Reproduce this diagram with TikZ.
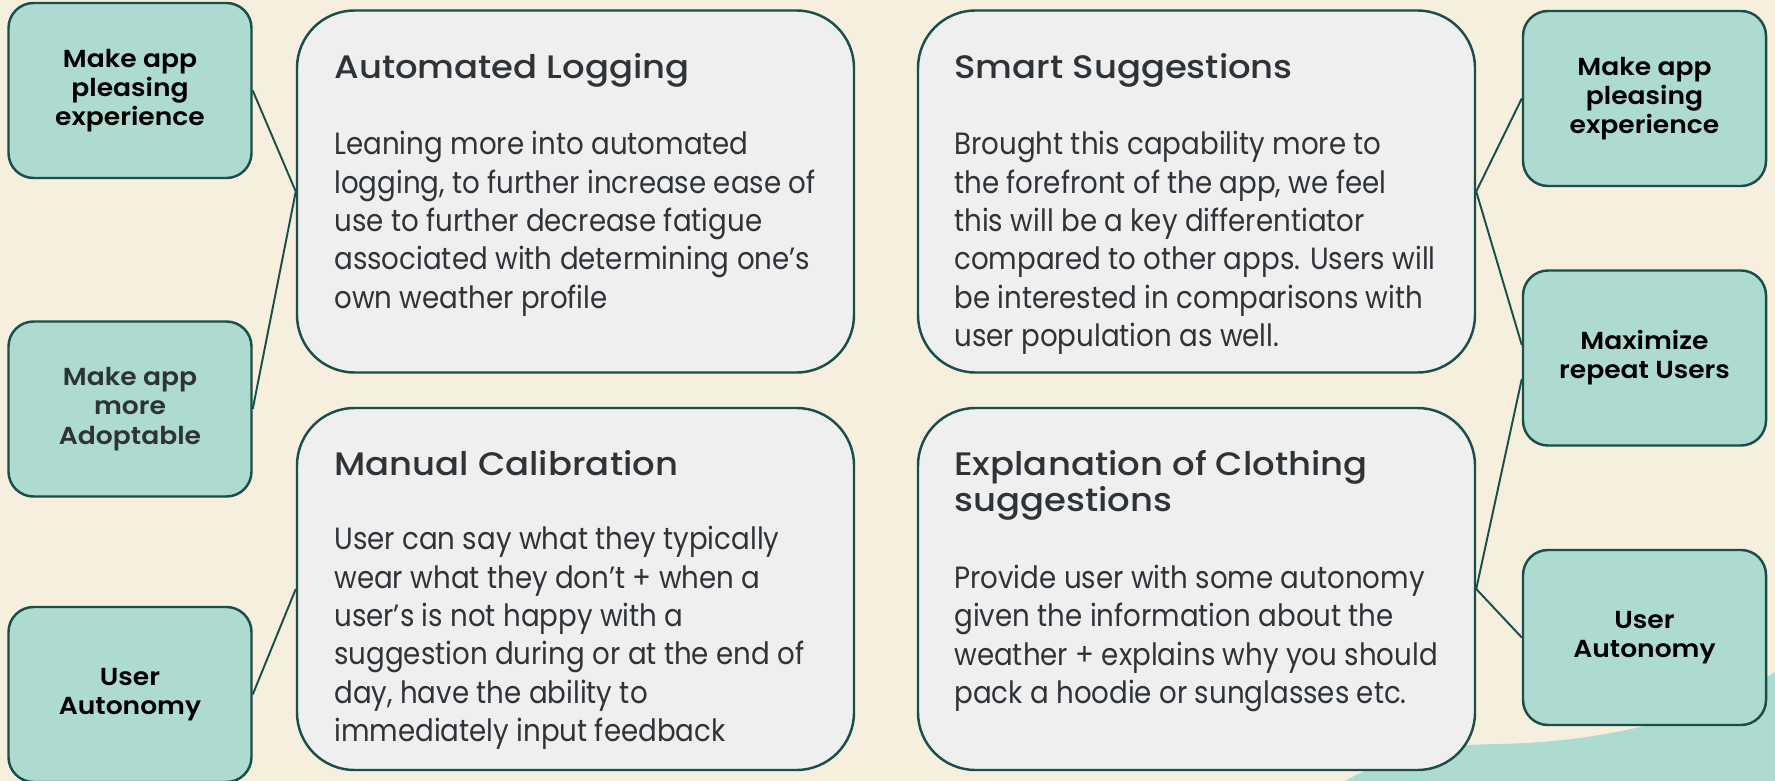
\documentclass[tikz,border=0pt]{standalone}
\usepackage{fontspec}
\usepackage{tikz}
\setmainfont{Poppins}
\newfontfamily\bodyfont{Poppins}[FakeStretch=0.9]
\newfontfamily\headfont{Poppins Medium}[FakeStretch=1.09]
\newfontfamily\goalfont{Poppins SemiBold}[FakeStretch=1.08]
\definecolor{cream}{HTML}{F6EFDD}
\definecolor{mint}{HTML}{ADDBD0}
\definecolor{pine}{HTML}{1B4D4A}
\definecolor{card}{HTML}{EFEFEF}
\definecolor{ink}{HTML}{2E3338}

\begin{document}
\begin{tikzpicture}[
goal/.style={draw=pine,line width=1.4pt,fill=mint,rounded corners=0.5cm,minimum width=4.86cm,minimum height=3.5cm,align=center,text=black,font=\goalfont\fontsize{14}{16.6}\selectfont},
idea/.style={draw=pine,line width=1.4pt,fill=card,rounded corners=1.15cm,minimum width=11.14cm,minimum height=7.24cm},
title/.style={anchor=base west,inner sep=0pt,align=left,text=ink,font=\headfont\fontsize{18.5}{20.5}\selectfont},
body/.style={anchor=base west,inner sep=0pt,align=left,text=ink,font=\bodyfont\fontsize{17.5}{21.8}\selectfont},
link/.style={draw=pine,line width=1.1pt}]
\useasboundingbox (0,0) rectangle (35.5,-15.62);
\fill[cream] (0,0) rectangle (35.5,-15.62);
\fill[mint] (26.9,-15.62) .. controls (28,-15) and (28.8,-14.9) .. (30,-14.88) .. controls (32,-14.84) and (34,-14.4) .. (35.5,-13.44) -- (35.5,-15.62) -- cycle;

\node[goal] (goalplease) at (2.6,-1.81) {Make app\\pleasing\\experience};
\node[goal,text=ink] (goaladopt) at (2.6,-8.18) {Make app\\more\\Adoptable};
\node[goal] (goalauto) at (2.6,-13.89) {User\\Autonomy};
\node[goal] (rgoalplease) at (32.89,-1.97) {Make app\\pleasing\\experience};
\node[goal] (rgoalrepeat) at (32.89,-7.16) {Maximize\\repeat Users};
\node[goal] (rgoalauto) at (32.89,-12.75) {User\\Autonomy};

\node[idea] (logging) at (11.51,-3.83) {};
\node[idea] (manual) at (11.51,-11.78) {};
\node[idea] (smart) at (23.93,-3.83) {};
\node[idea] (explain) at (23.93,-11.78) {};

\node[title] (logtitle) at (6.68,-1.57) {Automated Logging};
\node[body] (logbody) at (6.68,-6.16) {Leaning more into automated\\logging, to further increase ease of\\use to further decrease fatigue\\associated with determining one’s\\own weather profile};
\node[title] (mantitle) at (6.68,-9.51) {Manual Calibration};
\node[body] (manbody) at (6.68,-14.83) {User can say what they typically\\wear what they don’t + when a\\user’s is not happy with a\\suggestion during or at the end of\\day, have the ability to\\immediately input feedback};
\node[title] (smarttitle) at (19.08,-1.57) {Smart Suggestions};
\node[body] (smartbody) at (19.08,-6.93) {Brought this capability more to\\the forefront of the app, we feel\\this will be a key differentiator\\compared to other apps. Users will\\be interested in comparisons with\\user population as well.};
\node[title] (expltitle) at (19.08,-10.23) {Explanation of Clothing\\suggestions};
\node[body] (explbody) at (19.08,-14.07) {Provide user with some autonomy\\given the information about the\\weather + explains why you should\\pack a hoodie or sunglasses etc.};

\draw[link] (goalplease.east) -- (logging.west);
\draw[link] (goaladopt.east) -- (logging.west);
\draw[link] (goalauto.east) -- (manual.west);
\draw[link] (smart.east) -- (rgoalplease.west);
\draw[link] (smart.east) -- ([yshift=0.26cm]rgoalrepeat.west);
\draw[link] (explain.east) -- ([yshift=-0.42cm]rgoalrepeat.west);
\draw[link] (explain.east) -- (rgoalauto.west);
\end{tikzpicture}
\end{document}
